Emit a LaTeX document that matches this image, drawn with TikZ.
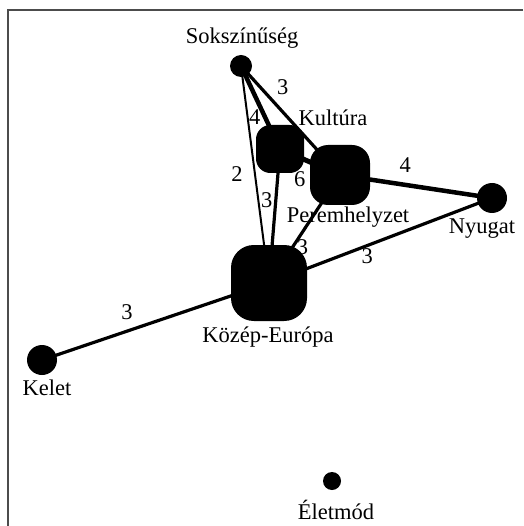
\documentclass[tikz,border=0pt]{standalone}
\usepackage{fontspec}
\setmainfont{Liberation Serif}
\usetikzlibrary{backgrounds}
\begin{document}
\begin{tikzpicture}[x=1pt,y=-1pt,
  every node/.style={font=\fontsize{22.5}{25}\selectfont},
  dot/.style={circle,fill=black,inner sep=0pt,minimum size=#1},
  blob/.style={rectangle,fill=black,inner sep=0pt,minimum size=#1,rounded corners=0.3*#1},
  tag/.style={inner sep=0pt},
  num/.style={inner sep=0pt},
  tie/.style={line width=#1,black},
  frame/.style={draw=black!70,line width=1.8pt}]
  \useasboundingbox (0,0) rectangle (523,526);
  % open frame: top and left rules only
  \draw[frame] (523,10) -- (8,10) -- (8,526);

  % concepts
  \node[dot=22]   (sok) at (241,66)  {};
  \node[blob=48]  (kul) at (280,149) {};
  \node[blob=60]  (per) at (340,175) {};
  \node[blob=76]  (koz) at (269,283) {};
  \node[dot=30]   (nyu) at (492,198) {};
  \node[dot=30]   (kel) at (42,360)  {};
  \node[dot=18]   (ele) at (332,481) {};

  % concept names
  \node[tag] (tsok) at (242,38)  {Sokszínűség};
  \node[tag] (tkul) at (333,118) {Kultúra};
  \node[tag] (tper) at (348,217) {Peremhelyzet};
  \node[tag] (tkoz) at (268,337) {Közép-Európa};
  \node[tag] (tnyu) at (482,229) {Nyugat};
  \node[tag] (tkel) at (47,388)  {Kelet};
  \node[tag] (tele) at (336,510) {Életmód};

  % weighted links, behind the concept shapes
  \begin{pgfonlayer}{background}
    \draw[tie=4.5pt] (sok.center) -- node[num,pos=.61,shift={(-10,0)}] {4} (kul.center);
    \draw[tie=3.2pt] (sok.center) -- node[num,pos=.30,shift={(12,-12)}] {3} (per.center);
    \draw[tie=2pt]   (sok.center) -- node[num,pos=.50,shift={(-18,0)}] {2} (koz.center);
    \draw[tie=3.2pt] (kul.center) -- node[num,pos=.38,shift={(-9,0)}] {3} (koz.center);
    \draw[tie=5pt]   (kul.center) -- node[num,pos=.33,shift={(0,22)}] {6} (per.center);
    \draw[tie=4.5pt] (per.center) -- node[num,pos=.43,shift={(0,-20)}] {4} (nyu.center);
    \draw[tie=3.2pt] (per.center) -- node[num,pos=.67,shift={(10,0)}] {3} (koz.center);
    \draw[tie=3.2pt] (koz.center) -- node[num,pos=.44,shift={(0,11)}] {3} (nyu.center);
    \draw[tie=3.2pt] (kel.center) -- node[num,pos=.374,shift={(0,-19)}] {3} (koz.center);
  \end{pgfonlayer}
\end{tikzpicture}
\end{document}
